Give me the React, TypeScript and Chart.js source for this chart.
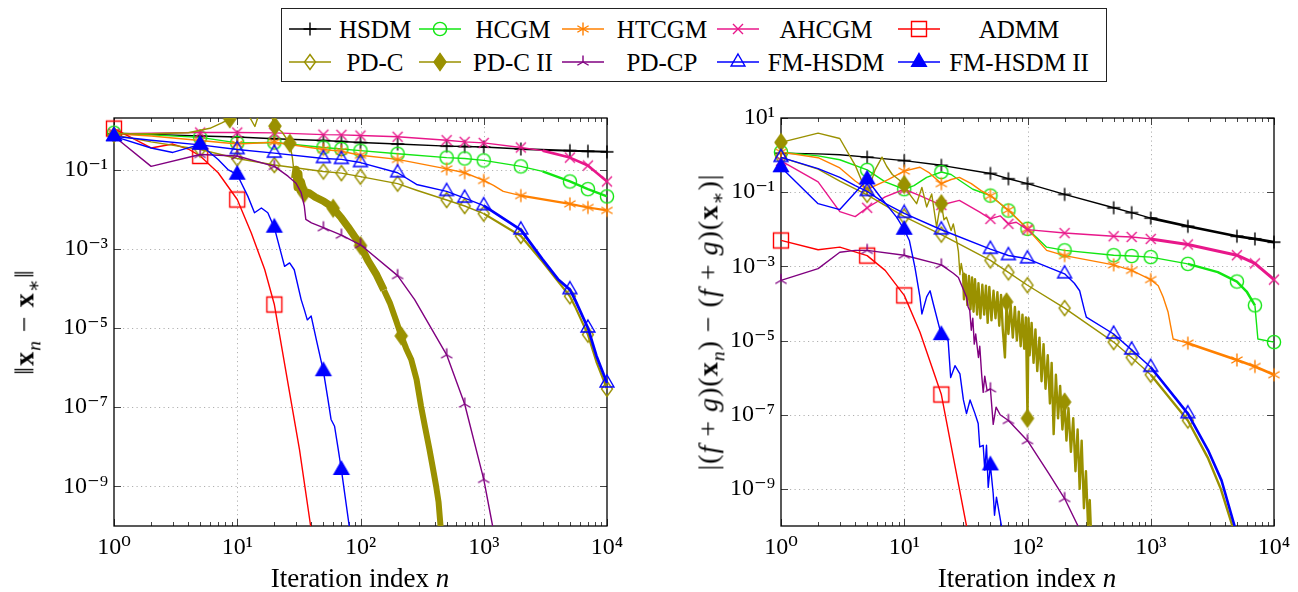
import React, { useEffect, useRef } from 'react';
import { Chart, registerables } from 'chart.js';
Chart.register(...registerables);

type Pt = [number, number];

// ---------- axis ticks ----------
const xTicks = [1, 10, 100, 1000, 10000];
const xTickLabels = ['10⁰', '10¹', '10²', '10³', '10⁴'];
const yTicksLeft = [1e-9, 1e-7, 1e-5, 1e-3, 1e-1];
const yTickLabelsLeft = ['10⁻⁹', '10⁻⁷', '10⁻⁵', '10⁻³', '10⁻¹'];
const yTicksRight = [1e-9, 1e-7, 1e-5, 1e-3, 1e-1, 10];
const yTickLabelsRight = ['10⁻⁹', '10⁻⁷', '10⁻⁵', '10⁻³', '10⁻¹', '10¹'];

// ---------- series names ----------
const seriesNames = ['HSDM', 'HCGM', 'HTCGM', 'AHCGM', 'ADMM', 'PD-C', 'PD-C II', 'PD-CP', 'FM-HSDM', 'FM-HSDM II'];

// ---------- mark positions ----------
const stdMarks = [1, 5, 10, 20, 50, 70, 100, 200, 500, 700, 1000, 2000, 5000, 7000, 10000];
const admmMarks = [1, 5, 10, 20];
const pdc2MarksLeft = [8.7, 20.2, 26.7, 35, 60, 100, 214];
const pdc2MarksRight = [1, 10, 20, 67.6, 100, 200];
const pdcpMarksLeft = [1, 5, 10, 20, 50, 70, 100, 200, 500, 700, 1000];
const pdcpMarksRight = [1, 5, 10, 20, 50, 70, 100, 200];
const fm2Marks = [1, 5, 10, 20, 50, 70];

// ---------- left plot: ||x_n - x*|| ----------
const hsdmL: Pt[] = [[1,0.8],[2,0.77],[5,0.7],[10,0.66],[20,0.6],[50,0.54],[70,0.51],[100,0.48],[200,0.44],[500,0.39],[700,0.38],[1000,0.37],[2000,0.33],[5000,0.3],[7000,0.29],[10000,0.28]];
const hcgmL: Pt[] = [[1,0.85],[2,0.75],[5,0.65],[10,0.47],[20,0.48],[50,0.36],[70,0.33],[100,0.3],[200,0.25],[500,0.2],[700,0.19],[1000,0.17],[2000,0.12],[3000,0.09],[5000,0.05],[7000,0.032],[10000,0.021]];
const htcgmL: Pt[] = [[1,0.8],[2,0.7],[5,0.54],[10,0.44],[20,0.49],[50,0.32],[70,0.29],[100,0.23],[200,0.18],[500,0.104],[700,0.083],[1000,0.053],[1200,0.04],[1440,0.028],[2000,0.022],[5000,0.0136],[7000,0.011],[10000,0.0093]];
const ahcgmL: Pt[] = [[1,0.8],[2,0.83],[5,0.86],[10,0.86],[20,0.84],[50,0.76],[70,0.75],[100,0.72],[200,0.67],[500,0.55],[700,0.5],[1000,0.47],[2000,0.36],[3000,0.3],[5000,0.2],[7000,0.126],[10000,0.05]];
const admmL: Pt[] = [[1,1.08],[2,0.35],[3,0.44],[4,0.33],[5,0.22],[7,0.083],[10,0.0175],[13,2.5e-3],[16.7,3e-4],[20,3.9e-5],[25.8,4e-7],[32,8.5e-9],[39.4,1e-10],[45,5e-12]];
const pdcL: Pt[] = [[1,0.75],[2,0.5],[5,0.32],[10,0.19],[20,0.13],[50,0.089],[70,0.081],[100,0.066],[200,0.044],[285,0.03],[500,0.017],[700,0.012],[1000,7.7e-3],[2000,2.1e-3],[3000,4.7e-4],[4000,1.5e-4],[5000,6.3e-5],[5500,3.5e-5],[7000,6.8e-6],[8200,1.4e-6],[10000,2.9e-7]];
const pdc2L: Pt[] = [[1,0.8],[2,0.8],[4,0.85],[6,1.1],[7.5,1.5],[8.7,1.9],[9.5,3],[11,4],[12.5,2.2],[13.9,1.22],[15.3,3],[17.5,3.5],[19.2,2],[20.2,1.25],[23,0.9],[26.7,0.46],[28,0.2],[29.3,0.06],[30,0.1],[30.7,0.035],[31.5,0.08],[32.3,0.03],[33,0.05],[35,0.025],[38,0.026],[43,0.02],[50,0.016],[58,0.0117],[60,0.0105],[70,6e-3],[79,3.6e-3],[90,2e-3],[100,1.2e-3],[115,5e-4],[135,2.2e-4],[155,9e-5],[173,4.3e-5],[195,1.5e-5],[214,6.3e-6],[235,3e-6],[258,1.6e-6],[285,5e-7],[310,1.05e-7],[335,3e-8],[363,8.5e-9],[390,2.5e-9],[411,1e-9],[430,4e-10],[446,1e-10],[480,5e-12]];
const pdcpL: Pt[] = [[1,0.69],[2,0.12],[5,0.24],[10,0.22],[20,0.12],[25.8,0.068],[30,0.045],[33,0.026],[35,0.012],[36,5.5e-3],[40,4.5e-3],[50,3.4e-3],[70,2.2e-3],[100,1.26e-3],[200,2.1e-4],[275,5.2e-5],[500,2.1e-6],[700,1.2e-7],[1000,1.5e-9],[1180,1e-10],[1300,5e-12]];
const fmL: Pt[] = [[1,0.69],[2,0.55],[5,0.42],[10,0.32],[20,0.26],[50,0.19],[70,0.18],[100,0.15],[200,0.083],[285,0.042],[500,0.028],[700,0.019],[1000,0.0123],[2000,3.0e-3],[3000,5.4e-4],[4000,1.7e-4],[5000,9.3e-5],[5500,5.2e-5],[7000,1e-5],[8200,2e-6],[10000,4.1e-7]];
const fm2L: Pt[] = [[1,0.69],[2,0.35],[3,0.27],[5,0.43],[7,0.18],[8.4,0.1],[10,0.074],[12.2,0.021],[13.8,8.1e-3],[15.7,0.0107],[17.7,8.1e-3],[20,3.4e-3],[24.2,3.6e-4],[26.6,4.4e-4],[29,2.95e-4],[33,5.2e-5],[35,2.9e-5],[37,1.6e-5],[39.8,2e-5],[43.8,5.1e-6],[50,8.1e-7],[54.4,1.6e-7],[57.7,4.9e-8],[61.6,3.3e-8],[65.5,1e-8],[70,2.6e-9],[81,1e-10],[90,5e-12]];

// ---------- right plot: |(f+g)(x_n) - (f+g)(x*)| ----------
const hsdmR: Pt[] = [[1,1.12],[2,1.08],[3,1.02],[5,0.88],[10,0.71],[20,0.53],[50,0.32],[70,0.23],[100,0.17],[200,0.087],[500,0.038],[700,0.028],[1000,0.02],[2000,0.012],[5000,6.5e-3],[7000,5.5e-3],[10000,4.5e-3]];
const hcgmR: Pt[] = [[1,1.2],[2,0.95],[3,0.75],[5,0.4],[7,0.19],[10,0.12],[12,0.15],[15.2,0.25],[20,0.35],[24,0.3],[28,0.21],[36,0.12],[50,0.081],[70,0.032],[100,0.0103],[143,3.3e-3],[200,2.7e-3],[500,2.0e-3],[700,1.9e-3],[1000,1.78e-3],[2000,1.17e-3],[3500,7e-4],[5000,3.9e-4],[6000,2.1e-4],[7000,8.9e-5],[7400,1.1e-5],[10000,9.1e-6]];
const htcgmR: Pt[] = [[1,1.2],[2,0.85],[3,0.45],[4,0.2],[5,0.12],[7,0.2],[10,0.37],[13.4,0.47],[16,0.33],[20,0.17],[24,0.22],[28,0.25],[35,0.17],[42,0.11],[50,0.08],[70,0.033],[100,0.0103],[143,2.7e-3],[200,1.95e-3],[500,1.1e-3],[700,7.8e-4],[1000,4.4e-4],[1150,3e-4],[1260,1.5e-4],[1380,6e-5],[1450,2.5e-5],[1520,1.1e-5],[2000,8.5e-6],[5000,3e-6],[7000,2e-6],[10000,1.2e-6]];
const ahcgmR: Pt[] = [[1,0.7],[2,0.19],[3,0.03],[4,0.022],[5,0.038],[7,0.075],[10,0.12],[13.4,0.081],[20,0.045],[28,0.06],[41,0.029],[50,0.019],[60,0.023],[70,0.014],[81,0.0155],[100,9.8e-3],[200,7.9e-3],[500,6.5e-3],[700,6.2e-3],[1000,5.5e-3],[2000,3.9e-3],[5000,2.0e-3],[7000,1.2e-3],[10000,4.4e-4]];
const admmR: Pt[] = [[1,5e-3],[2,2.8e-3],[3,3.3e-3],[5,1.95e-3],[7,7.8e-4],[10,1.65e-4],[13.4,1.7e-5],[20,3.5e-7],[25,7.2e-9],[32,1e-10],[36,5e-12]];
const pdcR: Pt[] = [[1,0.87],[2,0.42],[3,0.2],[5,0.085],[10,0.022],[20,7.2e-3],[50,1.45e-3],[70,6.9e-4],[100,3.1e-4],[200,7.5e-5],[500,9.1e-6],[700,3.5e-6],[1000,1.2e-6],[2000,7e-8],[2900,7e-9],[3700,1e-9],[4600,1e-10],[5300,5e-12]];
const pdc2R: Pt[] = [[1,2.2],[2,3.9],[3,2.8],[4,0.53],[5,0.09],[5.8,0.4],[6.6,0.88],[7.2,0.5],[8,0.3],[9,0.22],[10,0.16],[11,0.09],[12.6,0.049],[13.9,0.135],[15.2,0.04],[16.7,0.09],[18.3,0.0115],[19.2,0.03],[20,0.049],[21,0.018],[22,0.021],[24,0.0093],[25,0.014],[26.6,0.005],[27.5,0.0025],[28.3,6e-4],[29,1.2e-3],
  [30,6.3e-4],[30.5,1.3e-4],[31.5,6e-4],[32.5,9e-5],[33.5,5.5e-4],[34.5,7e-5],[35.5,5e-4],[36.5,6e-5],[37.5,4.5e-4],[39,5e-5],[40,3.5e-4],[41.5,4e-5],[43,3.2e-4],[44.5,5e-5],[46,3e-4],[47.5,3e-5],[49,2.8e-4],[51,3.5e-5],[53,2.2e-4],[55,4e-5],[57,2e-4],[59,2.5e-5],[61,1.7e-4],[63,2e-5],[65.6,3.5e-6],[67.6,1.1e-4],[70,1.5e-5],[73,9e-5],[76,1.2e-5],[79,8e-5],[82,1e-5],[85,6e-5],[88,7e-6],[91,5e-5],[94,6e-6],[97,4.2e-5],[100,8e-8],[102,4e-5],[104,4e-6],[108,3e-5],[112,2.5e-6],[116,2e-5],[120,1.5e-6],[125,1.2e-5],[130,8e-7],[135,8e-6],[140,5e-7],[146,4e-6],[152,2e-7],[157,2.5e-6],[163,3e-8],[170,1.2e-6],[177,8e-8],[184,6e-7],[192,4e-8],[200,2.2e-7],[207,2e-8],[215,1.5e-7],[225,1e-8],[235,8e-8],[245,3e-9],[255,4e-8],[265,1e-9],[275,2e-8],[287,3e-10],[298,3e-9],[310,1e-10],[320,5e-10],[335,1e-11]];
const pdcpR: Pt[] = [[1,4.2e-4],[2,8.7e-4],[3,2.4e-3],[4,2.7e-3],[5,2.7e-3],[10,2e-3],[20,1.1e-3],[25,6.5e-4],[27.5,5e-4],[30,2.5e-4],[32,1.5e-4],[33,8e-5],[34,6.5e-5],[35,1.9e-5],[36,4e-5],[37,8e-6],[38,1.5e-5],[40,3.5e-6],[41,7e-6],[42.4,1.3e-6],[43.7,4e-7],[45,1.1e-6],[47,4.5e-7],[50,5e-7],[52.7,5.5e-8],[55.6,1.6e-7],[60,1e-7],[70,7e-8],[100,2e-8],[150,2.5e-9],[200,5.5e-10],[257,1e-10],[300,2e-11]];
const fmR: Pt[] = [[1,0.87],[2,0.43],[3,0.25],[4,0.15],[5,0.105],[7,0.05],[10,0.027],[20,9.7e-3],[50,2.9e-3],[70,1.96e-3],[100,1.6e-3],[200,6.3e-4],[240,3.5e-4],[265,2.2e-4],[290,6.5e-5],[300,4.3e-5],[500,1.5e-5],[700,5.6e-6],[1000,1.9e-6],[2000,1.07e-7],[2920,1.1e-8],[3750,1.7e-9],[4790,1e-10],[5500,5e-12]];
const fm2R: Pt[] = [[1,0.47],[2,0.049],[3,0.034],[5,0.22],[6.4,0.074],[8.7,0.021],[10,9.7e-3],[11,5e-3],[12.2,9.5e-4],[13.4,1.5e-4],[13.9,5.2e-5],[15.2,1.5e-4],[16.2,2.2e-4],[17.2,9.8e-5],[20,1.4e-5],[22.7,1e-5],[23.8,1e-6],[25.8,2.1e-6],[28.3,1.26e-6],[30.2,2.5e-7],[32,1.07e-7],[34.2,2.5e-7],[37.5,1.07e-7],[39.8,5.8e-8],[41,1.35e-8],[43.7,1.5e-8],[45,3.2e-9],[46.5,1.5e-8],[48,1.1e-9],[50,4.3e-9],[52.7,7.4e-10],[54,1.95e-10],[56,6e-10],[61.5,1e-10],[65,2e-11]];

// ---------- styles ----------
const seriesColors = ['#000000', '#12e612', '#ff8000', '#e8178a', '#ff0000', '#9a9100', '#9a9100', '#800080', '#0000ff', '#0000ff'];
const seriesMarkers = ['plus', 'circle', 'asterisk', 'x', 'square', 'diamond', 'diamondFill', 'tristar', 'triangle', 'triangleFill'];

const FONT = "'Liberation Serif', 'DejaVu Serif', serif";

function drawMarker(ctx: CanvasRenderingContext2D, kind: string, cx: number, cy: number, color: string) {
  ctx.save();
  ctx.strokeStyle = color;
  ctx.fillStyle = color;
  ctx.lineWidth = 1.4;
  ctx.setLineDash([]);
  ctx.beginPath();
  const s3 = Math.sqrt(3) / 2;
  switch (kind) {
    case 'plus': { const r = 6.5; ctx.moveTo(cx - r, cy); ctx.lineTo(cx + r, cy); ctx.moveTo(cx, cy - r); ctx.lineTo(cx, cy + r); ctx.stroke(); break; }
    case 'circle': { ctx.arc(cx, cy, 6.6, 0, Math.PI * 2); ctx.stroke(); break; }
    case 'asterisk': { const r = 6.5; for (const a of [90, 30, 150]) { const dx = r * Math.cos(a * Math.PI / 180); const dy = r * Math.sin(a * Math.PI / 180); ctx.moveTo(cx - dx, cy - dy); ctx.lineTo(cx + dx, cy + dy); } ctx.stroke(); break; }
    case 'x': { const r = 5; ctx.moveTo(cx - r, cy - r); ctx.lineTo(cx + r, cy + r); ctx.moveTo(cx - r, cy + r); ctx.lineTo(cx + r, cy - r); ctx.stroke(); break; }
    case 'square': { ctx.rect(cx - 7.5, cy - 7.5, 15, 15); ctx.stroke(); break; }
    case 'diamond': { ctx.moveTo(cx, cy - 7.5); ctx.lineTo(cx + 5.5, cy); ctx.lineTo(cx, cy + 7.5); ctx.lineTo(cx - 5.5, cy); ctx.closePath(); ctx.stroke(); break; }
    case 'diamondFill': { ctx.moveTo(cx, cy - 8.5); ctx.lineTo(cx + 6, cy); ctx.lineTo(cx, cy + 8.5); ctx.lineTo(cx - 6, cy); ctx.closePath(); ctx.fill(); ctx.stroke(); break; }
    case 'tristar': { const r = 6.5; ctx.moveTo(cx, cy); ctx.lineTo(cx, cy - r); ctx.moveTo(cx, cy); ctx.lineTo(cx - r * s3, cy + r * 0.5); ctx.moveTo(cx, cy); ctx.lineTo(cx + r * s3, cy + r * 0.5); ctx.stroke(); break; }
    case 'triangle': { const r = 8; ctx.moveTo(cx, cy - r); ctx.lineTo(cx + r * s3, cy + r * 0.5); ctx.lineTo(cx - r * s3, cy + r * 0.5); ctx.closePath(); ctx.stroke(); break; }
    case 'triangleFill': { const r = 8.5; ctx.moveTo(cx, cy - r); ctx.lineTo(cx + r * s3, cy + r * 0.5); ctx.lineTo(cx - r * s3, cy + r * 0.5); ctx.closePath(); ctx.fill(); ctx.stroke(); break; }
  }
  ctx.restore();
}

function markerCanvas(kind: string, color: string) {
  const c = document.createElement('canvas');
  c.width = 22; c.height = 22;
  const ctx = c.getContext('2d')!;
  drawMarker(ctx, kind, 11, 11, color);
  return c;
}

type Spec = { data: Pt[]; marks: number[]; thick?: [number, number, number][] };

function makeDatasets(specs: Spec[], markerImgs: HTMLCanvasElement[]) {
  const ds = specs.map((s, i) => {
    const markSet = new Set(s.marks);
    const thick = s.thick || [];
    return {
      label: seriesNames[i],
      data: s.data.map(([x, y]) => ({ x, y })),
      borderColor: seriesColors[i],
      backgroundColor: seriesColors[i],
      borderWidth: 1.4,
      borderJoinStyle: 'round',
      pointStyle: markerImgs[i],
      pointRadius: s.data.map(([x]) => (markSet.has(x) ? 5 : 0)),
      pointHoverRadius: 0,
      pointHitRadius: 0,
      tension: 0,
      clip: { left: 14, right: 14, top: 0, bottom: 0 },
      segment: {
        borderWidth: (ctx: any) => {
          const x0 = ctx.p0.parsed.x, x1 = ctx.p1.parsed.x;
          for (const [a, b, w] of thick) if (x0 >= a && x1 <= b) return w;
          return undefined;
        },
      },
    };
  });
  return ds.reverse(); // first series drawn at the bottom, last on top
}

function gridFramePlugin(yTickVals: number[]) {
  return {
    id: 'gridFrame',
    beforeDatasetsDraw(chart: any) {
      const { ctx, chartArea: a, scales } = chart;
      const xs = scales.x, ys = scales.y;
      ctx.save();
      ctx.strokeStyle = '#b0b0b0';
      ctx.lineWidth = 1;
      ctx.setLineDash([1.2, 3.3]);
      for (const v of [10, 100, 1000]) {
        const x = Math.round(xs.getPixelForValue(v)) + 0.5;
        ctx.beginPath(); ctx.moveTo(x, a.top); ctx.lineTo(x, a.bottom); ctx.stroke();
      }
      for (const v of yTickVals) {
        const y = Math.round(ys.getPixelForValue(v)) + 0.5;
        if (y < a.top + 2 || y > a.bottom - 2) continue;
        ctx.beginPath(); ctx.moveTo(a.left, y); ctx.lineTo(a.right, y); ctx.stroke();
      }
      ctx.setLineDash([]);
      ctx.strokeStyle = '#444';
      ctx.lineWidth = 1;
      for (let d = 0; d <= 4; d++) {
        const base = Math.pow(10, d);
        const x = Math.round(xs.getPixelForValue(base)) + 0.5;
        ctx.beginPath();
        ctx.moveTo(x, a.bottom); ctx.lineTo(x, a.bottom - 7);
        ctx.moveTo(x, a.top); ctx.lineTo(x, a.top + 7);
        ctx.stroke();
        if (d === 4) break;
        for (let k = 2; k <= 9; k++) {
          const xm = Math.round(xs.getPixelForValue(k * base)) + 0.5;
          ctx.beginPath();
          ctx.moveTo(xm, a.bottom); ctx.lineTo(xm, a.bottom - 4);
          ctx.moveTo(xm, a.top); ctx.lineTo(xm, a.top + 4);
          ctx.stroke();
        }
      }
      for (const v of yTickVals) {
        const y = Math.round(ys.getPixelForValue(v)) + 0.5;
        ctx.beginPath();
        ctx.moveTo(a.left, y); ctx.lineTo(a.left + 7, y);
        ctx.moveTo(a.right, y); ctx.lineTo(a.right - 7, y);
        ctx.stroke();
      }
      ctx.strokeStyle = '#000';
      ctx.lineWidth = 1.3;
      ctx.strokeRect(a.left, a.top, a.right - a.left, a.bottom - a.top);
      ctx.restore();
    },
  };
}

function makeConfig(datasets: any[], yMax: number, yTickVals: number[], yLabels: string[], yWidth: number, padRight: number) {
  return {
    type: 'line',
    data: { datasets },
    options: {
      responsive: false,
      animation: false,
      events: [],
      layout: { padding: { left: 0, right: padRight, top: 118, bottom: 0 } },
      plugins: { legend: { display: false }, tooltip: { enabled: false } },
      scales: {
        x: {
          type: 'logarithmic',
          min: 1,
          max: 10000,
          afterFit: (s: any) => { s.height = 66; },
          afterBuildTicks: (s: any) => { s.ticks = xTicks.map((v) => ({ value: v })); },
          ticks: {
            callback: (_v: any, i: number) => xTickLabels[i],
            autoSkip: false,
            maxRotation: 0,
            minRotation: 0,
            padding: 7,
            color: '#000',
            font: { family: FONT, size: 24 },
          },
          grid: { display: false, drawTicks: false },
          border: { display: false },
        },
        y: {
          type: 'logarithmic',
          min: 1e-10,
          max: yMax,
          afterFit: (s: any) => { s.width = yWidth; },
          afterBuildTicks: (s: any) => { s.ticks = yTickVals.map((v) => ({ value: v })); },
          ticks: {
            callback: (_v: any, i: number) => yLabels[i],
            autoSkip: false,
            padding: 6,
            color: '#000',
            font: { family: FONT, size: 24 },
          },
          grid: { display: false, drawTicks: false },
          border: { display: false },
        },
      },
    },
    plugins: [gridFramePlugin(yTickVals)],
  };
}

const legendRowsY = [29, 62];
const legendLineX = [310, 440, 583, 738, 919];
const legendTextX = [375, 513, 662, 826, 1019];

export default function App() {
  const leftRef = useRef<HTMLCanvasElement>(null);
  const rightRef = useRef<HTMLCanvasElement>(null);
  const legRefs = useRef<(HTMLCanvasElement | null)[]>([]);

  useEffect(() => {
    const imgs = seriesMarkers.map((m, i) => markerCanvas(m, seriesColors[i]));
    const leftSpecs: Spec[] = [
      { data: hsdmL, marks: stdMarks, thick: [[2000, 10000, 2]] },
      { data: hcgmL, marks: stdMarks, thick: [[3000, 10000, 2.4]] },
      { data: htcgmL, marks: stdMarks, thick: [[2000, 10000, 2.2]] },
      { data: ahcgmL, marks: stdMarks, thick: [[3000, 10000, 2.6]] },
      { data: admmL, marks: admmMarks },
      { data: pdcL, marks: stdMarks, thick: [[1000, 10000, 2.2]] },
      { data: pdc2L, marks: pdc2MarksLeft, thick: [[29.3, 160, 7.5], [155, 480, 6]] },
      { data: pdcpL, marks: pdcpMarksLeft },
      { data: fmL, marks: stdMarks, thick: [[1000, 10000, 2.8]] },
      { data: fm2L, marks: fm2Marks },
    ];
    const rightSpecs: Spec[] = [
      { data: hsdmR, marks: stdMarks, thick: [[1000, 10000, 2.6]] },
      { data: hcgmR, marks: stdMarks, thick: [[2000, 7000, 2.5]] },
      { data: htcgmR, marks: stdMarks, thick: [[2000, 10000, 2.6]] },
      { data: ahcgmR, marks: stdMarks, thick: [[1000, 10000, 3]] },
      { data: admmR, marks: admmMarks },
      { data: pdcR, marks: stdMarks, thick: [[1000, 10000, 2.4]] },
      { data: pdc2R, marks: pdc2MarksRight, thick: [[30, 340, 2.4]] },
      { data: pdcpR, marks: pdcpMarksRight },
      { data: fmR, marks: stdMarks, thick: [[1000, 10000, 2.6]] },
      { data: fm2R, marks: fm2Marks },
    ];
    const c1 = new Chart(leftRef.current!, makeConfig(makeDatasets(leftSpecs, imgs), 2, yTicksLeft, yTickLabelsLeft, 114, 42) as any);
    const c2 = new Chart(rightRef.current!, makeConfig(makeDatasets(rightSpecs, imgs), 10, yTicksRight, yTickLabelsRight, 132, 24) as any);

    legRefs.current.forEach((cv, i) => {
      if (!cv) return;
      const ctx = cv.getContext('2d')!;
      ctx.clearRect(0, 0, cv.width, cv.height);
      ctx.strokeStyle = seriesColors[i];
      ctx.lineWidth = 1.4;
      ctx.beginPath(); ctx.moveTo(2, 15); ctx.lineTo(44, 15); ctx.stroke();
      drawMarker(ctx, seriesMarkers[i], 23, 15, seriesColors[i]);
    });

    return () => { c1.destroy(); c2.destroy(); };
  }, []);

  const titleStyle: React.CSSProperties = { position: 'absolute', whiteSpace: 'nowrap', color: '#000', lineHeight: 1 };
  const subStyle: React.CSSProperties = { fontSize: '0.7em' };

  return (
    <div style={{ position: 'absolute', left: 0, top: 0, width: 1298, height: 592, fontFamily: FONT, background: '#fff' }}>
      <canvas ref={leftRef} width={649} height={592} style={{ position: 'absolute', left: 0, top: 0, width: 649, height: 592 }} />
      <canvas ref={rightRef} width={649} height={592} style={{ position: 'absolute', left: 649, top: 0, width: 649, height: 592 }} />

      {/* legend */}
      <div style={{ position: 'absolute', left: 281, top: 8, width: 826, height: 74, border: '1.3px solid #222', boxSizing: 'border-box', background: '#fff' }} />
      {seriesNames.map((name, i) => {
        const row = i < 5 ? 0 : 1;
        const col = i % 5;
        return (
          <React.Fragment key={name}>
            <canvas
              ref={(el) => { legRefs.current[i] = el; }}
              width={46}
              height={30}
              style={{ position: 'absolute', left: legendLineX[col] - 23, top: legendRowsY[row] - 15, width: 46, height: 30 }}
            />
            <div style={{ position: 'absolute', left: legendTextX[col], top: legendRowsY[row], transform: 'translate(-50%, -50%)', whiteSpace: 'nowrap', fontSize: 25, lineHeight: 1 }}>
              {name}
            </div>
          </React.Fragment>
        );
      })}

      {/* x titles */}
      <div style={{ ...titleStyle, fontSize: 27, left: 360, top: 578, transform: 'translate(-50%, -50%)' }}>
        Iteration index <i>n</i>
      </div>
      <div style={{ ...titleStyle, fontSize: 27, left: 1027, top: 578, transform: 'translate(-50%, -50%)' }}>
        Iteration index <i>n</i>
      </div>

      {/* y titles */}
      <div style={{ ...titleStyle, fontSize: 28, letterSpacing: 1, left: 27, top: 322, transform: 'translate(-50%, -50%) rotate(-90deg)' }}>
        ‖<b>x</b><sub style={subStyle}><i>n</i></sub> − <b>x</b><sub style={subStyle}>∗</sub>‖
      </div>
      <div style={{ ...titleStyle, fontSize: 28, letterSpacing: 1, left: 711, top: 322, transform: 'translate(-50%, -50%) rotate(-90deg)' }}>
        |(<i>f</i> + <i>g</i>)(<b>x</b><sub style={subStyle}><i>n</i></sub>) − (<i>f</i> + <i>g</i>)(<b>x</b><sub style={subStyle}>∗</sub>)|
      </div>
    </div>
  );
}
